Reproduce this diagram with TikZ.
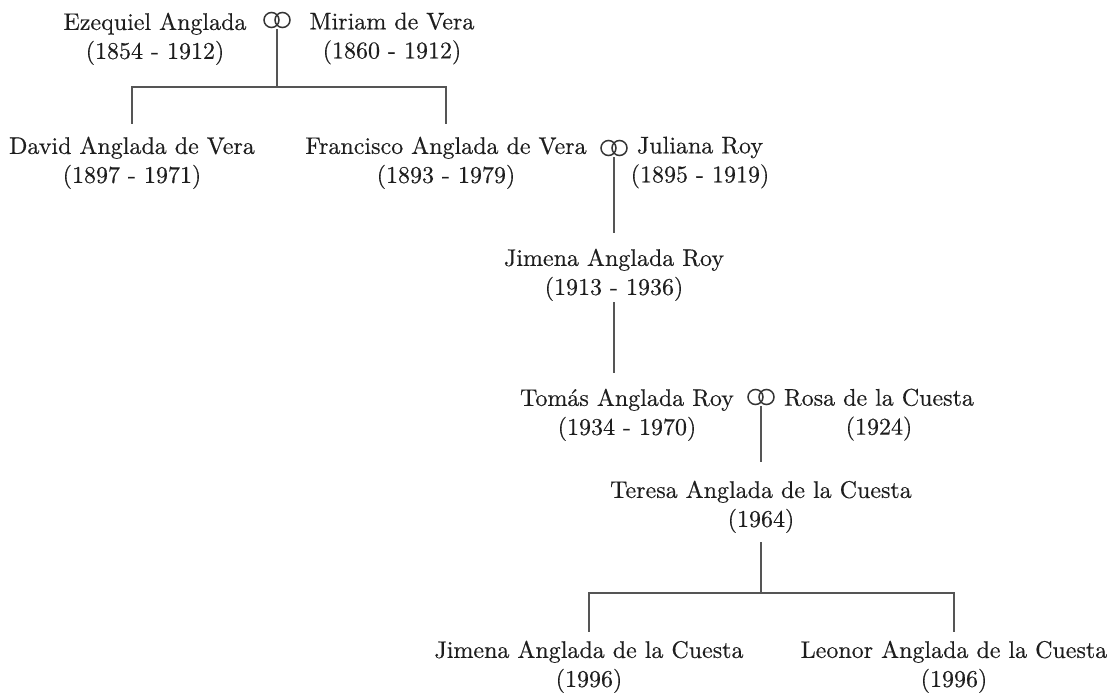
\documentclass[tikz,border=0pt]{standalone}
\usepackage{fontspec}
\usetikzlibrary{positioning}
\newfontfamily\familyfont{lmroman10-regular}[Extension=.otf, FakeBold=0.4]
\definecolor{inkgray}{HTML}{1E1E1E}
\definecolor{linegray}{HTML}{555555}
\begin{document}
\begin{tikzpicture}[x=1pt,y=-1pt,
person/.style={anchor=north, align=center, inner sep=0pt, text=inkgray,
 font=\familyfont\fontsize{24}{29}\selectfont},
link/.style={draw=linegray, line width=1.4pt},
wedding/.pic={
 \draw[inkgray!90, line width=1.5pt] (-5.5pt,0) circle [radius=7.5pt] (5.5pt,0) circle [radius=7.5pt];
 \coordinate (-stem) at (0,-9pt);}
]
\useasboundingbox (0,0) rectangle (1114,696);

\node[person] (ezequiel) at (155,12.5) {Ezequiel Anglada\\(1854 - 1912)};
\node[person] (miriam) at (392,12.5) {Miriam de Vera\\(1860 - 1912)};
\node[person] (david) at (132,136.5) {David Anglada de Vera\\(1897 - 1971)};
\node[person] (francisco) at (446,136.5) {Francisco Anglada de Vera\\(1893 - 1979)};
\node[person] (juliana) at (700,136.5) {Juliana Roy\\(1895 - 1919)};
\node[person] (jimena) at (614,248.5) {Jimena Anglada Roy\\(1913 - 1936)};
\node[person] (tomas) at (627,388.5) {Tomás Anglada Roy\\(1934 - 1970)};
\node[person] (rosa) at (879,388.5) {Rosa de la Cuesta\\(1924)};
\node[person] (teresa) at (761,480.5) {Teresa Anglada de la Cuesta\\(1964)};
\node[person] (jimenacuesta) at (589,640.5) {Jimena Anglada de la Cuesta\\(1996)};
\node[person] (leonor) at (954,640.5) {Leonor Anglada de la Cuesta\\(1996)};

\path
 (277,20) pic (ring1) {wedding}
 (614,148) pic (ring2) {wedding}
 (761,397) pic (ring3) {wedding};

\coordinate (fork1) at (277,87);
\coordinate (fork2) at (761,593);

\draw[link] (ring1-stem) -- (fork1);
\draw[link, shorten >=13pt] (fork1) -| (david.north);
\draw[link, shorten >=13pt] (fork1) -| (francisco.north);
\draw[link, shorten >=16pt] (ring2-stem) -- (ring2-stem |- jimena.north);
\draw[link, shorten <=1pt, shorten >=16pt] (jimena.south) -- (jimena.south |- tomas.north);
\draw[link, shorten >=19pt] (ring3-stem) -- (ring3-stem |- teresa.north);
\draw[link, shorten <=9pt] (teresa.south) -- (fork2);
\draw[link, shorten >=9pt] (fork2) -| (jimenacuesta.north);
\draw[link, shorten >=9pt] (fork2) -| (leonor.north);
%\draw[link] (tomas.east) -- (rosa.west);

\end{tikzpicture}
\end{document}
